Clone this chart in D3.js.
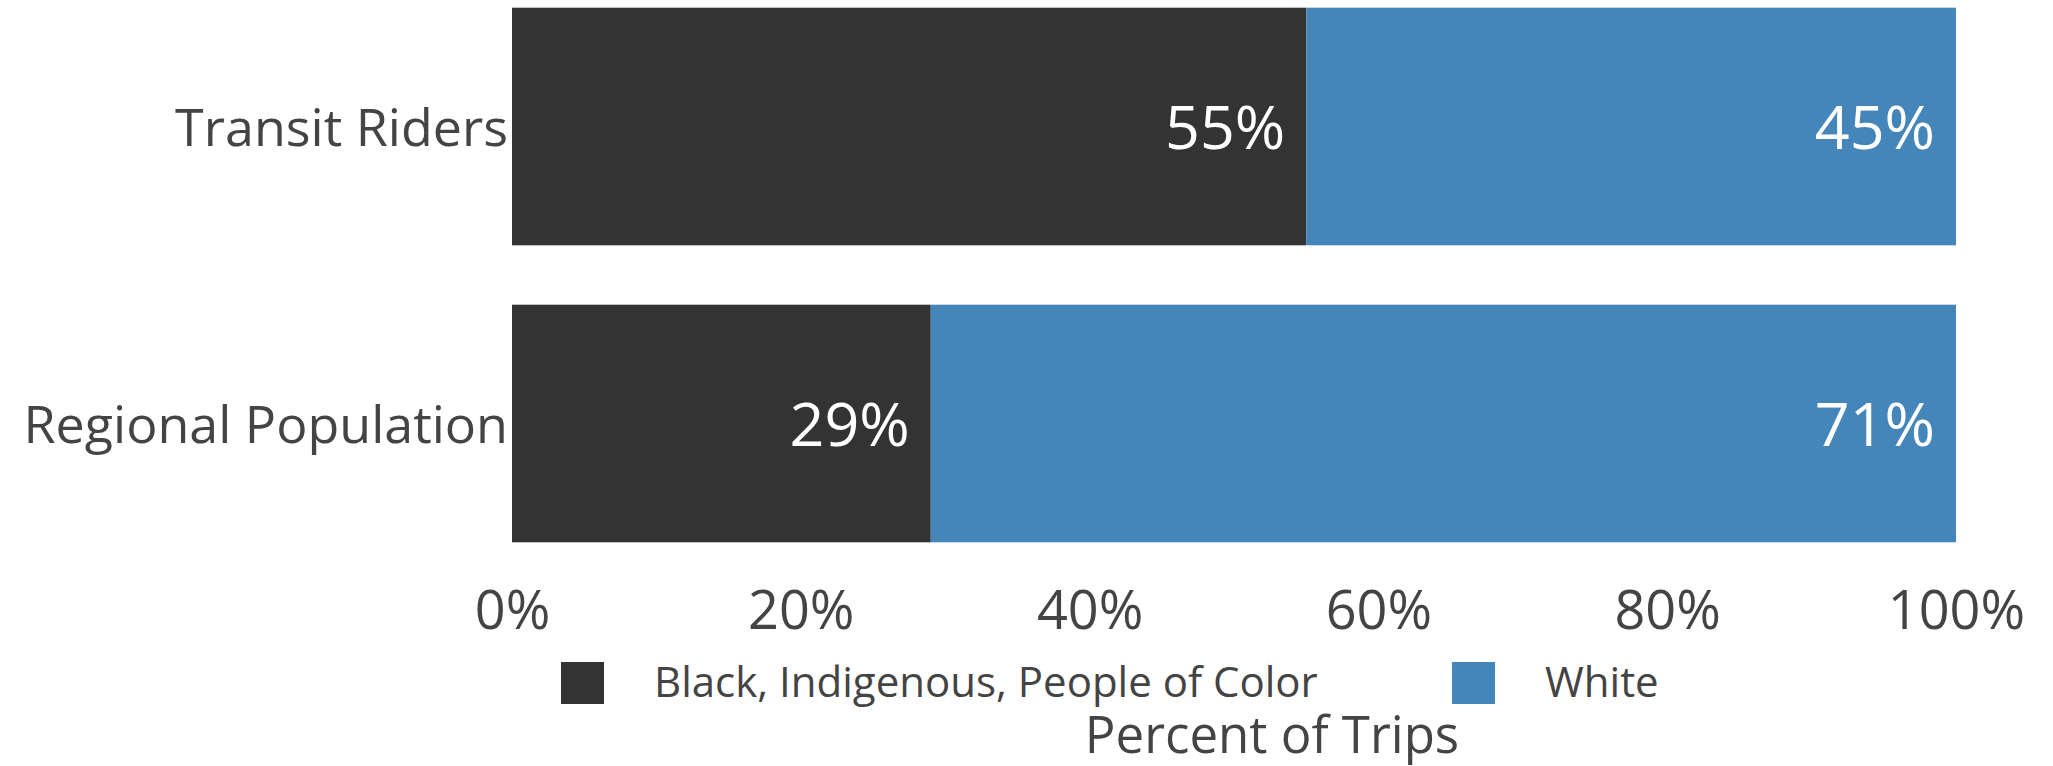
<!DOCTYPE html>
<html>
<head>
<meta charset="utf-8">
<script src="https://cdn.jsdelivr.net/npm/d3@7"></script>
<style>
  html, body { margin: 0; padding: 0; background: #ffffff; }
  svg { display: block; font-family: "Open Sans", sans-serif; }
</style>
</head>
<body>
<svg id="chart" width="2053" height="766"></svg>
<script>
const categories = ["Transit Riders", "Regional Population"];
const seriesNames = ["Black, Indigenous, People of Color", "White"];
const bipocValues = [0.55, 0.29];
const whiteValues = [0.45, 0.71];
const tickValues = [0, 0.2, 0.4, 0.6, 0.8, 1.0];
const tickLabels = ["0%", "20%", "40%", "60%", "80%", "100%"];
const seriesColors = ["#333333", "#4586BA"];
const axisTitle = "Percent of Trips";

const svg = d3.select("#chart");
const textColor = "#444444";

const x = d3.scaleLinear().domain([0, 1]).range([512, 1956]);
const y = d3.scaleBand().domain(categories).range([-22, 572]).paddingInner(0.2).paddingOuter(0.1);

const rows = categories.map((c, i) => ({ cat: c, v: [bipocValues[i], whiteValues[i]] }));

const segs = [];
rows.forEach(r => {
  let acc = 0;
  r.v.forEach((v, k) => {
    segs.push({ cat: r.cat, k, x0: acc, x1: acc + v, v });
    acc += v;
  });
});

svg.append("g").selectAll("rect").data(segs).join("rect")
  .attr("x", d => x(d.x0))
  .attr("width", d => x(d.x1) - x(d.x0))
  .attr("y", d => y(d.cat))
  .attr("height", y.bandwidth())
  .attr("fill", d => seriesColors[d.k]);

svg.append("g").selectAll("text").data(segs).join("text")
  .attr("x", d => x(d.x1) - 21)
  .attr("y", d => y(d.cat) + y.bandwidth() / 2 + 22)
  .attr("text-anchor", "end")
  .attr("fill", "#ffffff")
  .attr("font-size", 61)
  .text(d => Math.round(d.v * 100) + "%");

svg.append("g").selectAll("text").data(categories).join("text")
  .attr("x", 508)
  .attr("y", d => y(d) + y.bandwidth() / 2 + 19)
  .attr("text-anchor", "end")
  .attr("fill", textColor)
  .attr("font-size", 52)
  .text(d => d);

const axis = d3.axisBottom(x).tickValues(tickValues).tickFormat((d, i) => tickLabels[i]).tickSize(0).tickPadding(0);
const gx = svg.append("g").attr("transform", "translate(0,590)").call(axis);
gx.select(".domain").remove();
gx.selectAll("text")
  .attr("fill", textColor)
  .attr("font-size", 54)
  .attr("font-family", "Open Sans, sans-serif")
  .attr("dy", null)
  .attr("y", 39);

const legendX = [561, 1452];
const lg = svg.append("g").selectAll("g").data(seriesNames).join("g")
  .attr("transform", (d, i) => `translate(${legendX[i]},662)`);
lg.append("rect").attr("width", 43).attr("height", 42).attr("fill", (d, i) => seriesColors[i]);
lg.append("text")
  .attr("x", 93)
  .attr("y", 35)
  .attr("fill", textColor)
  .attr("font-size", 42)
  .text(d => d);

svg.append("text")
  .attr("x", 1272)
  .attr("y", 753)
  .attr("text-anchor", "middle")
  .attr("fill", textColor)
  .attr("font-size", 51)
  .text(axisTitle);
</script>
</body>
</html>
